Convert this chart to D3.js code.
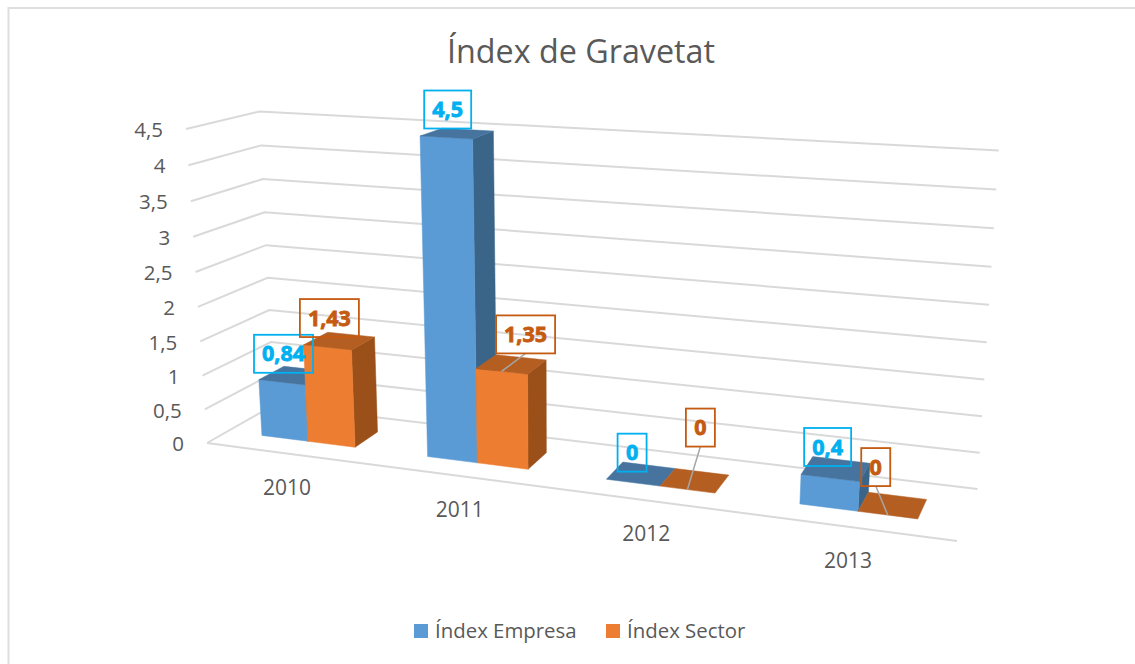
<!DOCTYPE html>
<html><head><meta charset="utf-8">
<script src="https://cdn.jsdelivr.net/npm/d3@7"></script>
<style>
html,body{margin:0;padding:0;background:#fff}
svg{display:block}
text{font-family:"Open Sans",sans-serif}
</style></head><body>
<svg id="c" width="1135" height="664"></svg>
<script>
const title = "Índex de Gravetat";
const years = ["2010","2011","2012","2013"];
const seriesNames = ["Índex Empresa","Índex Sector"];
const empresa = [0.84,4.5,0,0.4];
const sector = [1.43,1.35,0,0];
const empresaLabels = ["0,84","4,5","0","0,4"];
const sectorLabels = ["1,43","1,35","0","0"];
const ticks = [0,0.5,1,1.5,2,2.5,3,3.5,4,4.5];
const colors = [
  {front:"#5B9BD5",side:"#3A6488",top:"#46749F",label:"#00B0F0"},
  {front:"#ED7D31",side:"#9B5019",top:"#B55E22",label:"#C55A11"}
];

// Projected corners of the 3-D plot box
const box = {
  FLb:[207,443], FRb:[957,541], BLb:[274,405], BRb:[977.5,489],
  FLt:[186,129], FRt:[981,178], BLt:[259.5,111.5], BRt:[998.7,150.5]
};
const persp = (t,k)=>t/(t+(1-t)*k);
const lerp = (a,b,t)=>[a[0]+(b[0]-a[0])*t, a[1]+(b[1]-a[1])*t];
const uScale = d3.scaleLinear().domain([0,1]).range([0,1]);
const dScale = d3.scaleLinear().domain([0,1]).range([0,1]);
const vScale = d3.scaleLinear().domain([0,4.5]).range([0,1]);
function P(u,d,v){
  const t=persp(uScale(u),1.17), s=persp(dScale(d),1.08), r=persp(vScale(v),1.045);
  const b=lerp(lerp(box.FLb,box.FRb,t),lerp(box.BLb,box.BRb,t),s);
  const a=lerp(lerp(box.FLt,box.FRt,t),lerp(box.BLt,box.BRt,t),s);
  return lerp(b,a,r);
}
const x0 = d3.scaleBand().domain(years).range([0,1]);
const x1 = d3.scaleBand().domain([0,1]).range([0,x0.bandwidth()]).paddingOuter(0.75);
const barDepth = {front:0.33, back:0.71};

const svg = d3.select("#c");
// frame: top and left edges only are visible
svg.append("path").attr("d",d3.line()([[8.5,664],[8.5,8],[1135,8]]))
  .attr("fill","none").attr("stroke","#dedede").attr("stroke-width",2);

svg.append("text").attr("x",581).attr("y",63).attr("text-anchor","middle")
  .attr("font-size",32.3).attr("fill","#595959").text(title);

// grid
const line = d3.line();
const grid = svg.append("g").attr("fill","none").attr("stroke","#d9d9d9").attr("stroke-width",2);
ticks.forEach(v=>{
  grid.append("path").attr("d",line([P(0,0,v),P(0,1,v),P(1,1,v)]));
});
grid.append("path").attr("d",line([P(0,0,0),P(1,0,0)]));

// y tick labels
svg.append("g").selectAll("text").data(ticks).join("text")
  .attr("x",v=>P(0,0,v)[0]-23).attr("y",v=>P(0,0,v)[1]+1).attr("dy","0.35em")
  .attr("text-anchor","end").attr("font-size",20.5).attr("fill","#595959")
  .text(v=>String(v).replace(".",","));

// category labels
svg.append("g").selectAll("text").data(years).join("text")
  .attr("x",y=>P(x0(y)+x0.bandwidth()/2,0,0)[0]-1.5).attr("y",y=>P(x0(y)+x0.bandwidth()/2,0,0)[1]+33.5)
  .attr("dy","0.35em").attr("text-anchor","middle").attr("font-size",21).attr("fill","#595959").text(y=>y);

// bars
const quad = (g,pts,fill)=>g.append("path").attr("d",line(pts)+"Z").attr("fill",fill).attr("stroke",fill).attr("stroke-width",0.5);
const barsG = svg.append("g");
years.forEach((y,i)=>{
  [empresa[i],sector[i]].forEach((val,s)=>{
    const u0=x0(y)+x1(s), u1=u0+x1.bandwidth(), f=barDepth.front, b=barDepth.back, c=colors[s];
    if(val>0){
      quad(barsG,[P(u1,f,0),P(u1,b,0),P(u1,b,val),P(u1,f,val)],c.side);
      quad(barsG,[P(u0,f,0),P(u1,f,0),P(u1,f,val),P(u0,f,val)],c.front);
    }
    quad(barsG,[P(u0,f,val),P(u1,f,val),P(u1,b,val),P(u0,b,val)],c.top);
  });
});

// data labels: manual offsets of the box centre from the top-centre of each bar's front edge
const labelOffsets = [
  [[1.5,-28.5],[2,-29.3]],
  [[1.5,-28],[24,-37]],
  [[-1,-30],[13,-62]],
  [[-2.5,-31],[-12,-48]]
];
const leader = [[false,false],[false,true],[false,true],[false,true]];
const labelW = {1:29,3:47,4:59};
const labels = svg.append("g");
years.forEach((y,i)=>{
  [[empresa[i],empresaLabels[i]],[sector[i],sectorLabels[i]]].forEach(([val,txt],s)=>{
    const uc=x0(y)+x1(s)+x1.bandwidth()/2;
    const a=P(uc,barDepth.front,val);
    const cx=a[0]+labelOffsets[i][s][0], cy=a[1]+labelOffsets[i][s][1];
    const w=labelW[txt.length], h=38, c=colors[s];
    if(leader[i][s]) labels.append("path").attr("d",line([a,[cx,cy+h/2]])).attr("stroke","#a6a6a6").attr("stroke-width",1.5).attr("fill","none");
    labels.append("rect").attr("x",cx-w/2).attr("y",cy-h/2).attr("width",w).attr("height",h)
      .attr("fill","none").attr("stroke",c.label).attr("stroke-width",1.8);
    labels.append("text").attr("x",cx).attr("y",cy).attr("dy","0.35em").attr("text-anchor","middle")
      .attr("font-size",21.5).attr("font-weight",700).attr("fill",c.label).attr("stroke",c.label).attr("stroke-width",0.8).text(txt);
  });
});

// legend
const legX = [[414,435],[606,627]];
const leg = svg.append("g");
seriesNames.forEach((n,i)=>{
  leg.append("rect").attr("x",legX[i][0]).attr("y",624).attr("width",14).attr("height",14).attr("fill",colors[i].front);
  leg.append("text").attr("x",legX[i][1]).attr("y",631).attr("dy","0.35em").attr("font-size",20.4).attr("fill","#595959").text(n);
});
</script></body></html>
